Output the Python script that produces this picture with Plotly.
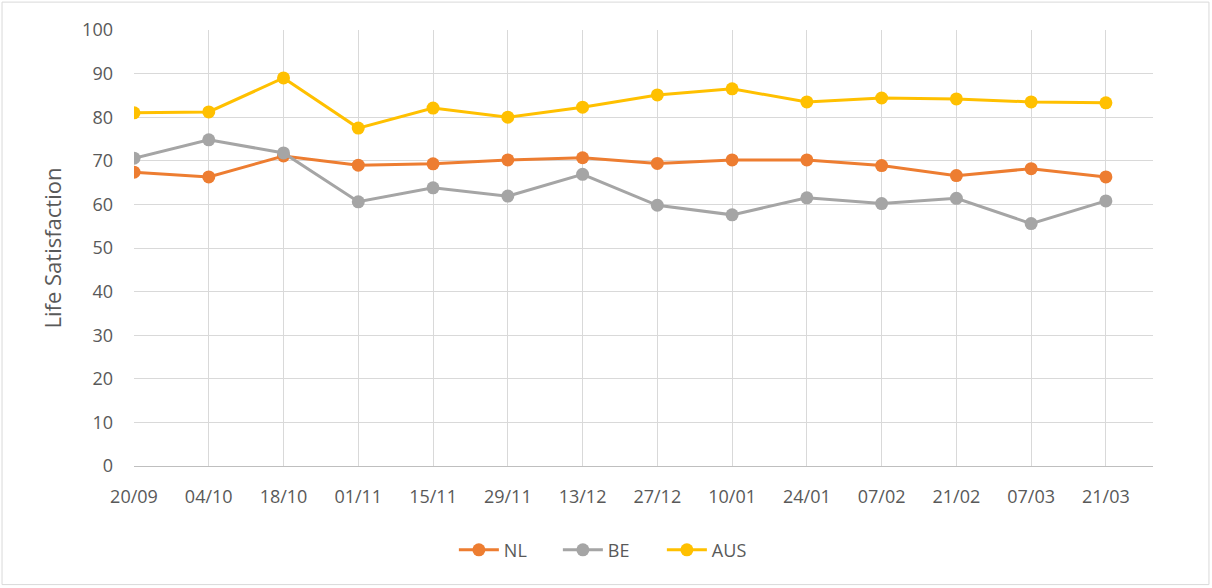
import plotly.graph_objects as go

dates = ["20/09", "04/10", "18/10", "01/11", "15/11", "29/11", "13/12",
         "27/12", "10/01", "24/01", "07/02", "21/02", "07/03", "21/03"]
nl = [67.4, 66.3, 71.1, 69.0, 69.3, 70.2, 70.7, 69.4, 70.2, 70.2, 68.9, 66.6, 68.2, 66.3]
be = [70.6, 74.8, 71.8, 60.6, 63.8, 61.9, 66.9, 59.8, 57.6, 61.5, 60.2, 61.4, 55.6, 60.8]
aus = [81.0, 81.2, 89.0, 77.5, 82.1, 80.0, 82.3, 85.1, 86.5, 83.5, 84.4, 84.2, 83.5, 83.3]
y_ticks = [0, 10, 20, 30, 40, 50, 60, 70, 80, 90, 100]

series = [("NL", nl, "#ED7D31"), ("BE", be, "#A5A5A5"), ("AUS", aus, "#FFC000")]
font_family = "Open Sans, Liberation Sans, Arial"

fig = go.Figure()
xi = list(range(len(dates)))
for name, vals, col in series:
    fig.add_trace(go.Scatter(
        x=xi, y=vals, name=name, mode="lines+markers",
        line=dict(color=col, width=3),
        marker=dict(color=col, size=13),
    ))

fig.update_layout(
    width=1212, height=588,
    margin=dict(l=134, r=59, t=30, b=122),
    paper_bgcolor="white", plot_bgcolor="white",
    font=dict(family=font_family, color="#595959", size=18),
    showlegend=True,
    legend=dict(orientation="h", x=0.467, xanchor="center", y=-0.193, yanchor="middle",
                font=dict(size=18, color="#595959"), itemwidth=40,
                entrywidth=49, traceorder="normal"),
    shapes=[dict(type="rect", xref="paper", yref="paper",
                 x0=-0.1295, x1=1.0549, y0=-0.272, y1=1.064,
                 line=dict(color="#D9D9D9", width=1), fillcolor="rgba(0,0,0,0)", layer="below")],
)
fig.update_xaxes(
    range=[0, 13.63], tickmode="array", tickvals=xi, ticktext=dates,
    showgrid=True, gridcolor="#D9D9D9", gridwidth=1,
    showline=True, linecolor="#BFBFBF", linewidth=1,
    ticks="", ticklabelstandoff=14, zeroline=False,
    tickfont=dict(size=18, color="#595959"),
)
fig.update_yaxes(
    range=[0, 100], tickmode="array", tickvals=y_ticks,
    showgrid=True, gridcolor="#D9D9D9", gridwidth=1,
    showline=False, zeroline=False, ticks="", ticklabelstandoff=20,
    tickfont=dict(size=18, color="#595959"),
    title=dict(text="Life Satisfaction", font=dict(size=22, color="#595959"), standoff=14),
)

fig.write_html("out.html", post_script="document.body.style.margin='0';",
               config={"displayModeBar": False})
